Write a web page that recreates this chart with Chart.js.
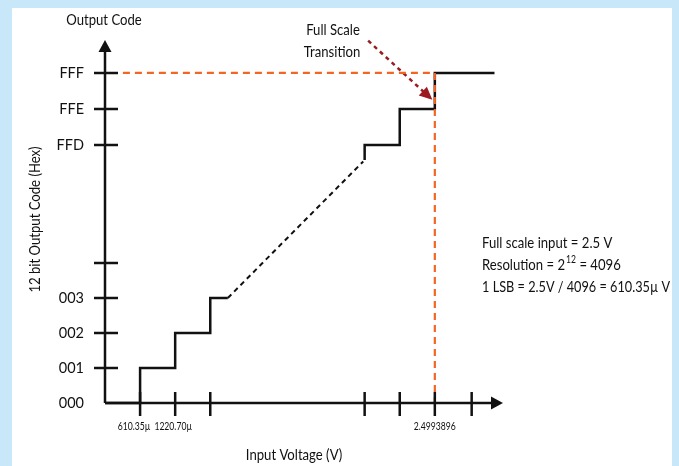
<!DOCTYPE html>
<html>
<head>
<meta charset="utf-8">
<script src="https://cdn.jsdelivr.net/npm/chart.js@4/dist/chart.umd.min.js"></script>
<style>
    body { margin: 0; background: #c8e7f8; }
    #sheet { position: absolute; left: 12px; top: 8px; width: 660px; height: 458px; background: #fff; }
    #chart { position: absolute; left: 0; top: 0; }
</style>
</head>
<body>
<div id="sheet"></div>
<canvas id="chart" width="679" height="466"></canvas>
<script>
// axis positions are in LSB steps, the gap between 003 and FFD is squeezed
const xTickValues = [1, 2, 3, 7.4, 8.4, 9.4, 10.45];
const xTickLabels = ['610.35µ', '1220.70µ', '', '', '', '2.4993896', ''];
const yTickValues = [0, 1, 2, 3, 4, 7.37, 8.4, 9.43];
const yTickLabels = ['000', '001', '002', '003', '', 'FFD', 'FFE', 'FFF'];

// transfer function, low codes and high codes
const lowCodeX = [0, 1, 2, 3, 3.5];
const lowCodeY = [0, 1, 2, 3, 3];
const gapX = [3.5, 7.36];
const gapY = [3, 6.9];
const highCodeX = [7.4, 7.4, 8.4, 9.4, 11.1];
const highCodeY = [6.94, 7.37, 8.4, 9.43, 9.43];

// full scale guide lines and the callout arrow
const fullScaleX = [0.51, 9.4, 9.4];
const fullScaleY = [9.43, 9.43, 0];
const arrowX = [7.5, 9.33];
const arrowY = [10.35, 8.66];

const xTitle = 'Input Voltage (V)';
const yTitle = '12 bit Output Code (Hex)';
const notes = ['Full scale input = 2.5 V', 'Resolution = 2', '1 LSB = 2.5V / 4096 = 610.35µ V'];

const FONT = "Lato, 'Noto Sans', sans-serif";
const INK = '#111';
const ORANGE = '#f26522';
const RED = '#9b1c20';
const SQUEEZE = 0.82;
const X_LABEL_NUDGE = [-6, -2, 0, 0, 0, 0, 0];

function toPoints(xs, ys) {
    return xs.map((x, i) => ({x: x, y: ys[i]}));
}

function lineSet(xs, ys, color, width, dash, stepped) {
    return {
        data: toPoints(xs, ys),
        borderColor: color,
        borderWidth: width,
        borderDash: dash,
        borderCapStyle: 'butt',
        borderJoinStyle: 'miter',
        stepped: stepped,
        pointRadius: 0,
        fill: false,
        clip: false,
    };
}

// narrow text, the original uses a condensed face
function narrowText(ctx, text, x, y, rotation) {
    ctx.save();
    ctx.translate(x, y);
    if (rotation) ctx.rotate(rotation);
    ctx.scale(SQUEEZE, 1);
    ctx.fillText(text, 0, 0);
    ctx.restore();
    return ctx.measureText(text).width * SQUEEZE;
}

const axesPlugin = {
    id: 'axes',
    afterDatasetsDraw(chart) {
        const ctx = chart.ctx;
        const xs = chart.scales.x;
        const ys = chart.scales.y;
        const x0 = xs.getPixelForValue(0);
        const y0 = ys.getPixelForValue(0);
        const top = chart.chartArea.top;
        const xEnd = 503;
        ctx.save();
        ctx.strokeStyle = INK;
        ctx.fillStyle = INK;
        ctx.lineWidth = 2.5;
        ctx.beginPath();
        ctx.moveTo(x0, y0);
        ctx.lineTo(x0, top + 8);
        ctx.moveTo(x0, y0);
        ctx.lineTo(xEnd - 8, y0);
        yTickValues.forEach(v => {
            if (v === 0) return;
            const p = ys.getPixelForValue(v);
            ctx.moveTo(x0 - 11, p);
            ctx.lineTo(x0 + 13, p);
        });
        xTickValues.forEach(v => {
            const p = xs.getPixelForValue(v);
            ctx.moveTo(p, y0 - 11);
            ctx.lineTo(p, y0 + 13);
        });
        ctx.stroke();
        ctx.beginPath();
        ctx.moveTo(x0, top);
        ctx.lineTo(x0 - 6.5, top + 12);
        ctx.lineTo(x0 + 6.5, top + 12);
        ctx.closePath();
        ctx.fill();
        ctx.beginPath();
        ctx.moveTo(xEnd, y0);
        ctx.lineTo(xEnd - 12, y0 - 6.5);
        ctx.lineTo(xEnd - 12, y0 + 6.5);
        ctx.closePath();
        ctx.fill();

        // arrow head of the callout
        const pts = chart.getDatasetMeta(1).data;
        const a = pts[0], b = pts[1];
        const ang = Math.atan2(b.y - a.y, b.x - a.x);
        ctx.fillStyle = RED;
        ctx.beginPath();
        ctx.moveTo(b.x, b.y);
        ctx.lineTo(b.x - 13 * Math.cos(ang) + 6 * Math.sin(ang), b.y - 13 * Math.sin(ang) - 6 * Math.cos(ang));
        ctx.lineTo(b.x - 13 * Math.cos(ang) - 6 * Math.sin(ang), b.y - 13 * Math.sin(ang) + 6 * Math.cos(ang));
        ctx.closePath();
        ctx.fill();

        // x tick labels, narrow so neighbours do not collide
        ctx.fillStyle = INK;
        ctx.textBaseline = 'middle';
        ctx.textAlign = 'center';
        ctx.font = '10.5px ' + FONT;
        xs.ticks.forEach((t, i) => {
            if (xTickLabels[i]) narrowText(ctx, xTickLabels[i], xs.getPixelForValue(t.value) + X_LABEL_NUDGE[i], 427);
        });

        // texts
        ctx.font = '16px ' + FONT;
        narrowText(ctx, 'Output Code', 104, 20);
        narrowText(ctx, 'Full Scale', 333, 30);
        narrowText(ctx, 'Transition', 332, 52);
        narrowText(ctx, xTitle, 294, 455);
        narrowText(ctx, yTitle, 35, (chart.chartArea.top + y0) / 2 - 2, -Math.PI / 2);

        ctx.textAlign = 'left';
        narrowText(ctx, notes[0], 482, 243);
        let w = narrowText(ctx, notes[1], 482, 265);
        ctx.font = '10.5px ' + FONT;
        w += narrowText(ctx, '12', 482 + w + 1, 260) + 1;
        ctx.font = '16px ' + FONT;
        narrowText(ctx, ' = 4096', 482 + w, 265);
        ctx.font = '15.5px ' + FONT;
        narrowText(ctx, notes[2], 482, 287);
        ctx.restore();
    }
};

Chart.defaults.font.family = FONT;
Chart.defaults.color = INK;

new Chart(document.getElementById('chart'), {
    type: 'line',
    data: {
        datasets: [
            lineSet(fullScaleX, fullScaleY, ORANGE, 2.2, [7, 5], false),
            lineSet(arrowX, arrowY, RED, 2.5, [4, 4], false),
            lineSet(highCodeX, highCodeY, INK, 2.5, [], 'before'),
            lineSet(gapX, gapY, INK, 2, [5, 4], false),
            lineSet(lowCodeX, lowCodeY, INK, 2.5, [], 'before'),
        ]
    },
    options: {
        responsive: false,
        animation: false,
        devicePixelRatio: 1,
        layout: {padding: {left: 0, top: 40, right: 194, bottom: 0}},
        plugins: {legend: {display: false}, tooltip: {enabled: false}},
        scales: {
            x: {
                type: 'linear',
                min: 0,
                max: 10.83,
                grid: {display: false, drawTicks: false},
                border: {display: false},
                afterBuildTicks: scale => { scale.ticks = xTickValues.map(v => ({value: v})); },
                afterFit: scale => { scale.height = 63; },
                ticks: {
                    display: false,
                    autoSkip: false,
                    maxRotation: 0,
                },
            },
            y: {
                type: 'linear',
                min: 0,
                max: 10.37,
                grid: {display: false, drawTicks: false},
                border: {display: false},
                afterBuildTicks: scale => { scale.ticks = yTickValues.map(v => ({value: v})); },
                afterFit: scale => { scale.width = 105; },
                ticks: {
                    autoSkip: false,
                    padding: 21,
                    font: {size: 14.5},
                    callback: (value, index) => yTickLabels[index],
                },
            }
        }
    },
    plugins: [axesPlugin]
});
</script>
</body>
</html>
